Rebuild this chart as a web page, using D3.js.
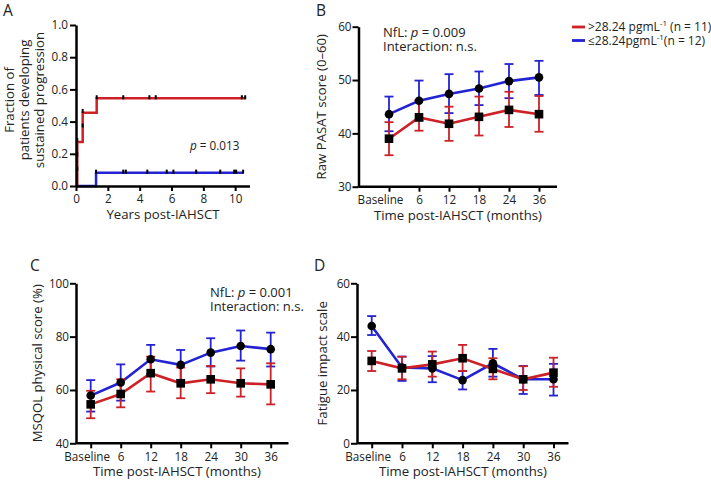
<!DOCTYPE html>
<html>
<head>
<meta charset="utf-8">
<script src="https://cdn.jsdelivr.net/npm/d3@7"></script>
<style>
body { margin: 0; background: #fff; }
text { font-family: "Open Sans", sans-serif; fill: #222; }
</style>
</head>
<body>
<svg id="fig" width="711" height="483"></svg>
<script>
const red = "#cc2127"
const blue = "#2323d4"

// ---- panel A: time to sustained progression
const kmTicksX = [0, 2, 4, 6, 8, 10]
const kmTicksY = [0, 0.2, 0.4, 0.6, 0.8, 1.0]
const kmRed = [[0, 0], [0.08, 0.273], [0.42, 0.455], [1.3, 0.545], [10.65, 0.545]]
const kmBlue = [[0, 0], [1.26, 0.083], [10.5, 0.083]]
const censorRed = [[0.08, 0.10], [0.08, 0.19], [0.08, 0.28], [0.42, 0.37], [0.42, 0.46],
    [1.3, 0.545], [2.97, 0.545], [4.61, 0.545], [5.01, 0.545], [10.42, 0.545], [10.63, 0.545]]
const censorBlue = [[1.26, 0.083], [2.97, 0.083], [3.13, 0.083], [4.48, 0.083], [5.7, 0.083],
    [6.12, 0.083], [7.55, 0.083], [9.06, 0.083], [9.94, 0.083], [10.06, 0.083], [10.5, 0.083]]

// ---- time points
const times6 = ["Baseline", "6", "12", "18", "24", "36"]
const times7 = ["Baseline", "6", "12", "18", "24", "30", "36"]

// ---- panel B: PASAT
const pasatTicks = [30, 40, 50, 60]
const pasatHigh = [39.0, 43.0, 41.8, 43.1, 44.4, 43.6]
const pasatHighLo = [35.9, 40.5, 38.6, 39.6, 41.2, 40.3]
const pasatHighHi = [42.1, 46.2, 45.0, 46.9, 47.8, 47.0]
const pasatLow = [43.6, 46.1, 47.4, 48.4, 49.8, 50.5]
const pasatLowLo = [40.4, 42.4, 43.8, 45.3, 46.6, 47.2]
const pasatLowHi = [46.9, 49.9, 51.1, 51.6, 53.0, 53.6]

// ---- panel C: MSQOL physical
const msqolTicks = [40, 60, 80, 100]
const msqolHigh = [54.6, 58.5, 66.3, 62.5, 64.0, 62.5, 62.1]
const msqolHighLo = [49.4, 53.5, 59.4, 56.9, 58.8, 57.5, 54.6]
const msqolHighHi = [59.7, 64.0, 72.5, 68.4, 69.0, 68.1, 70.0]
const msqolLow = [57.9, 62.8, 71.5, 69.4, 74.0, 76.5, 75.3]
const msqolLowLo = [51.9, 56.0, 66.0, 63.8, 68.8, 71.0, 68.8]
const msqolLowHi = [63.7, 69.6, 76.9, 75.0, 79.4, 82.3, 81.5]

// ---- panel D: fatigue impact
const fisTicks = [0, 20, 40, 60]
const fisHigh = [30.9, 28.1, 29.6, 31.9, 27.9, 24.0, 26.5]
const fisHighLo = [27.1, 24.0, 25.0, 27.1, 24.0, 20.0, 21.2]
const fisHighHi = [34.6, 32.5, 34.4, 36.9, 31.9, 28.9, 32.1]
const fisLow = [44.0, 28.4, 28.1, 23.7, 30.0, 24.0, 24.0]
const fisLowLo = [40.6, 23.4, 22.9, 20.2, 25.0, 18.5, 17.9]
const fisLowHi = [47.7, 32.5, 32.7, 27.1, 35.4, 29.0, 29.8]

const svg = d3.select("#fig")

function styleAxis(g) {
    g.selectAll(".domain").attr("stroke", "#000").attr("stroke-width", 2.5)
    g.selectAll(".tick line").attr("stroke", "#000").attr("stroke-width", 2)
    g.selectAll(".tick text").style("font-size", "11.7px").attr("fill", "#222")
}

function panelLabel(txt, x, y) {
    svg.append("text").attr("x", x).attr("y", y).text(txt)
        .style("font-size", "15.5px")
}

function yTitle(lines, x, y) {
    let t = svg.append("text")
        .attr("transform", `translate(${x},${y}) rotate(-90)`)
        .attr("text-anchor", "middle")
        .style("font-size", "13.2px")
    let n = lines.length
    lines.forEach(function(l, i) {
        t.append("tspan").attr("x", 0).attr("y", (i - (n - 1)) * 15).text(l)
    })
}

function statsNote(x, y, pval) {
    let t = svg.append("text").attr("x", x).attr("y", y).style("font-size", "13px")
    t.append("tspan").text("NfL: ")
    t.append("tspan").style("font-style", "italic").text("p")
    t.append("tspan").text(" = " + pval)
    svg.append("text").attr("x", x).attr("y", y + 14).style("font-size", "13px")
        .text("Interaction: n.s.")
}

// ================= panel A
function drawKM() {
    let x = d3.scaleLinear().domain([0, 10.9]).range([76, 249.5])
    let y = d3.scaleLinear().domain([0, 1]).range([186, 25])

    let line = d3.line().x(d => x(d[0])).y(d => y(d[1])).curve(d3.curveStepAfter)
    svg.append("path").datum(kmBlue).attr("d", line)
        .attr("fill", "none").attr("stroke", blue).attr("stroke-width", 2.5)
    svg.append("path").datum(kmRed).attr("d", line)
        .attr("fill", "none").attr("stroke", red).attr("stroke-width", 2.5)

    let cens = censorRed.concat(censorBlue)
    svg.selectAll(".censor").data(cens).enter().append("rect")
        .attr("class", "censor")
        .attr("x", d => x(d[0]) - 1)
        .attr("y", d => y(d[1]) - 3)
        .attr("width", 2).attr("height", 4)
        .attr("fill", "#000")

    let gx = svg.append("g").attr("transform", "translate(0,186)")
        .call(d3.axisBottom(x).tickValues(kmTicksX).tickSize(5).tickSizeOuter(0).tickPadding(4))
    styleAxis(gx)
    let gy = svg.append("g").attr("transform", "translate(76,0)")
        .call(d3.axisLeft(y).tickValues(kmTicksY).tickFormat(d3.format(".1f")).tickSize(6).tickSizeOuter(0).tickPadding(2))
    styleAxis(gy)

    let pt = svg.append("text").attr("x", 190).attr("y", 150).style("font-size", "11.7px")
    pt.append("tspan").style("font-style", "italic").text("p")
    pt.append("tspan").text(" = 0.013")

    svg.append("text").attr("x", 163).attr("y", 219).attr("text-anchor", "middle")
        .style("font-size", "13.2px").text("Years post-IAHSCT")
    yTitle(["Fraction of", "patients developing", "sustained progression"], 44, 100)
    panelLabel("A", 3, 16)
}

// ================= line panels with error bars
function drawTimePanel(cfg) {
    let x = d3.scalePoint().domain(cfg.labels)
        .range([cfg.first, cfg.first + cfg.step * (cfg.labels.length - 1)])
    let y = d3.scaleLinear().domain([cfg.ticks[0], cfg.ticks[cfg.ticks.length - 1]])
        .range([cfg.bottom, cfg.top])

    let groups = [
        {color: blue, mean: cfg.low, lo: cfg.lowLo, hi: cfg.lowHi, shape: "circle"},
        {color: red, mean: cfg.high, lo: cfg.highLo, hi: cfg.highHi, shape: "square"}
    ]

    groups.forEach(function(s) {
        let pts = cfg.labels.map((l, i) => ({t: l, m: s.mean[i], lo: s.lo[i], hi: s.hi[i]}))
        let g = svg.append("g")
        g.selectAll(".eb").data(pts).enter().append("line")
            .attr("x1", d => x(d.t)).attr("x2", d => x(d.t))
            .attr("y1", d => y(d.lo)).attr("y2", d => y(d.hi))
            .attr("stroke", s.color).attr("stroke-width", 1.8)
        g.selectAll(".capLo").data(pts).enter().append("line")
            .attr("x1", d => x(d.t) - 4.5).attr("x2", d => x(d.t) + 4.5)
            .attr("y1", d => y(d.lo)).attr("y2", d => y(d.lo))
            .attr("stroke", s.color).attr("stroke-width", 1.8)
        g.selectAll(".capHi").data(pts).enter().append("line")
            .attr("x1", d => x(d.t) - 4.5).attr("x2", d => x(d.t) + 4.5)
            .attr("y1", d => y(d.hi)).attr("y2", d => y(d.hi))
            .attr("stroke", s.color).attr("stroke-width", 1.8)
        g.append("path").datum(pts)
            .attr("d", d3.line().x(d => x(d.t)).y(d => y(d.m)))
            .attr("fill", "none").attr("stroke", s.color).attr("stroke-width", 2.6)
        s.pts = pts
    })

    groups.forEach(function(s) {
        if (s.shape == "circle") {
            svg.append("g").selectAll("circle").data(s.pts).enter().append("circle")
                .attr("cx", d => x(d.t)).attr("cy", d => y(d.m)).attr("r", 4.3)
                .attr("fill", "#000")
        } else {
            svg.append("g").selectAll("rect").data(s.pts).enter().append("rect")
                .attr("x", d => x(d.t) - 4.3).attr("y", d => y(d.m) - 4.3)
                .attr("width", 8.6).attr("height", 8.6)
                .attr("fill", "#000")
        }
    })

    // axes
    let gx = svg.append("g").attr("transform", `translate(0,${cfg.bottom})`)
        .call(d3.axisBottom(x).tickSize(5).tickSizeOuter(0).tickPadding(4))
    gx.select(".domain").remove()
    gx.append("line").attr("x1", cfg.axisX).attr("x2", cfg.axisEnd)
        .attr("stroke", "#000").attr("stroke-width", 2.5)
    styleAxis(gx)
    gx.selectAll(".tick text").filter(d => d == "Baseline").attr("dx", cfg.baseShift)

    let gy = svg.append("g").attr("transform", `translate(${cfg.axisX},0)`)
        .call(d3.axisLeft(y).tickValues(cfg.ticks).tickSize(6).tickSizeOuter(0).tickPadding(1))
    styleAxis(gy)

    svg.append("text").attr("x", cfg.titleX).attr("y", cfg.bottom + 33)
        .attr("text-anchor", "middle").style("font-size", "13.2px")
        .text("Time post-IAHSCT (months)")
    yTitle([cfg.yLabel], cfg.yLabelX, (cfg.top + cfg.bottom) / 2)
}

drawKM()

drawTimePanel({
    labels: times6, ticks: pasatTicks, top: 26.7, bottom: 186.7,
    first: 389, step: 30, axisX: 358.5, axisEnd: 557, baseShift: -9,
    high: pasatHigh, highLo: pasatHighLo, highHi: pasatHighHi,
    low: pasatLow, lowLo: pasatLowLo, lowHi: pasatLowHi,
    titleX: 458, yLabel: "Raw PASAT score (0\u201360)", yLabelX: 326
})
statsNote(383, 37, "0.009")
panelLabel("B", 316, 16)

drawTimePanel({
    labels: times7, ticks: msqolTicks, top: 283.3, bottom: 443.3,
    first: 90.7, step: 30, axisX: 76, axisEnd: 288.5, baseShift: -4,
    high: msqolHigh, highLo: msqolHighLo, highHi: msqolHighHi,
    low: msqolLow, lowLo: msqolLowLo, lowHi: msqolLowHi,
    titleX: 177, yLabel: "MSQOL physical score (%)", yLabelX: 42
})
statsNote(210, 296.5, "0.001")
panelLabel("C", 30, 271)

drawTimePanel({
    labels: times7, ticks: fisTicks, top: 283.3, bottom: 443.3,
    first: 371.7, step: 30.3, axisX: 357, axisEnd: 568.5, baseShift: -4,
    high: fisHigh, highLo: fisHighLo, highHi: fisHighHi,
    low: fisLow, lowLo: fisLowLo, lowHi: fisLowHi,
    titleX: 463, yLabel: "Fatigue impact scale", yLabelX: 327
})
panelLabel("D", 314, 271)

// legend
const legendItems = [
    {color: red, pre: ">28.24 pgmL", post: " (n = 11)"},
    {color: blue, pre: "\u226428.24pgmL", post: "(n = 12)"}
]
let leg = svg.append("g")
legendItems.forEach(function(d, i) {
    let yy = 27 + i * 13.5
    leg.append("line").attr("x1", 572).attr("x2", 585).attr("y1", yy).attr("y2", yy)
        .attr("stroke", d.color).attr("stroke-width", 2.8)
    let t = leg.append("text").attr("x", 588).attr("y", yy + 4.3).style("font-size", "12px")
    t.append("tspan").text(d.pre)
    t.append("tspan").attr("dy", -5).style("font-size", "8px").text("-1")
    t.append("tspan").attr("dy", 5).text(d.post)
})
</script>
</body>
</html>
